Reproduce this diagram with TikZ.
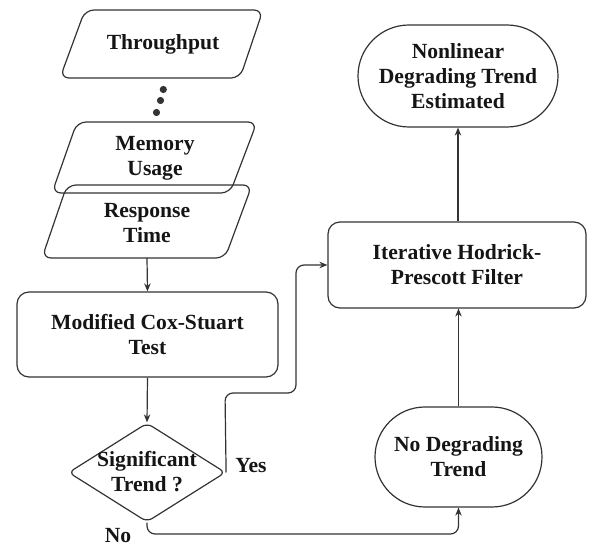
\documentclass[tikz,border=0pt]{standalone}
\usepackage{fontspec}
\setmainfont{Liberation Serif}
\usetikzlibrary{shapes.geometric,arrows.meta}
\definecolor{ln}{HTML}{333333}
\definecolor{tx}{HTML}{151515}
\begin{document}
\begin{tikzpicture}[x=1pt,y=-1pt,
  every node/.style={text=tx,font=\fontsize{21.6}{25}\selectfont\bfseries,align=center},
  shp/.style={draw=ln,line width=1.2pt},
  rbox/.style={shp,rounded corners=12pt,inner sep=0pt},
  arr/.style={draw=ln,line width=1.2pt,-{Stealth[length=8pt,width=6.5pt]}},
  lbl/.style={inner sep=0pt}]
\useasboundingbox (0,0) rectangle (590,548);
% parallelograms
\draw[shp,rounded corners=9pt] (170,10) -- (263,10) -- (240,78) -- (60,78) -- (85,10) -- cycle;
\node[lbl] (tp) at (163,44) {Throughput};
\fill[ln] (163.3,89.5) circle (3.6pt) (160.5,100.5) circle (3.6pt) (156.5,112.5) circle (3.6pt);
\draw[shp,rounded corners=9pt] (165,122) -- (257,122) -- (230,193) -- (52,193) -- (77,122) -- cycle;
\node[lbl] (mu) at (155,158) {Memory\\Usage};
\draw[shp,rounded corners=9pt] (160,185) -- (252,185) -- (225,258) -- (42,258) -- (67,185) -- cycle;
\node[lbl] (rt) at (147,223) {Response\\Time};
\coordinate (rtb) at (147,258);
% boxes
\node[rbox,minimum width=261pt,minimum height=85pt] (cs) at (147.5,334.5) {Modified Cox-Stuart\\Test};
\node[shp,diamond,rounded corners=6pt,minimum width=157pt,minimum height=99pt,aspect=1.586,inner sep=0pt] (st) at (147,472.5) {};
\node[lbl] (stt) at (147,471.5) {Significant\\Trend ?};
\node[rbox,minimum width=258pt,minimum height=86pt] (hp) at (457,265) {Iterative Hodrick-\\Prescott Filter};
\node[shp,rounded corners=50pt,minimum width=167pt,minimum height=100pt,inner sep=0pt] (nd) at (458.5,457) {No Degrading\\Trend};
\node[shp,rounded corners=51pt,minimum width=200pt,minimum height=102pt,inner sep=0pt] (nl) at (458,76) {Nonlinear\\Degrading Trend\\Estimated};
% labels
\node[lbl] (yes) at (251,466) {Yes};
\node[lbl,font=\fontsize{21.6}{21.6}\selectfont\bfseries] (no) at (118,536) {No};
% connectors
\draw[arr] (rtb) -- (cs.north);
\draw[arr] (cs.south) -- (st.north);
\draw[arr,rounded corners=8pt] (st.east) -- (225,393) -- (296,393) -- (296,265) -- (hp.west);
\draw[arr,rounded corners=8pt] (st.south) -- (147,534) -- (458.5,534) -- (nd.south);
\draw[arr] (nd.north) -- (nd.north |- hp.south);
\draw[arr] (hp.north -| nl.south) -- (nl.south);
\end{tikzpicture}
\end{document}
